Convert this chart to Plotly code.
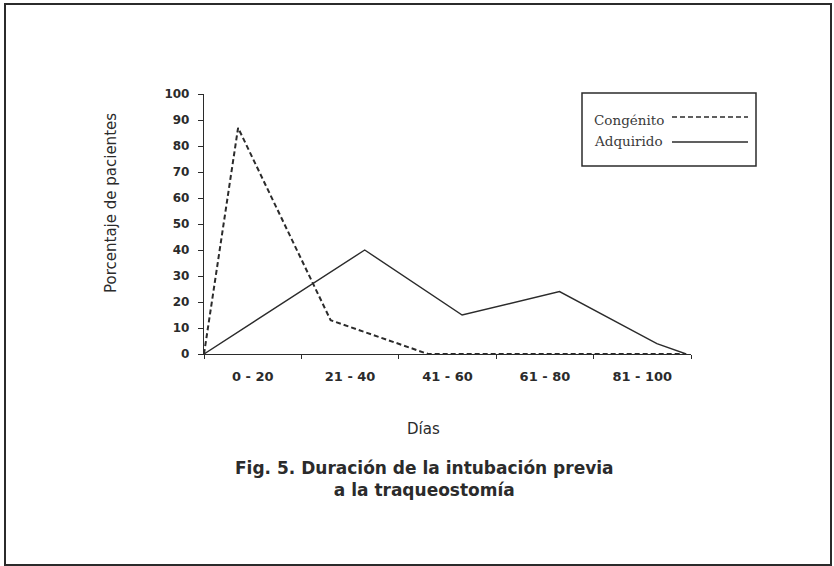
import plotly.graph_objects as go

# values (x in days, y in % of patients)
dias_labels = ["0 - 20", "21 - 40", "41 - 60", "61 - 80", "81 - 100"]
dias_label_pos = [10, 30, 50, 70, 90]
dias_bounds = [0, 20, 40, 60, 80, 100]

congenito_x = [0, 7, 26, 46, 99]
congenito_y = [0, 87, 13, 0, 0]

adquirido_x = [0, 33, 53, 73, 93, 99]
adquirido_y = [0, 40, 15, 24, 4, 0]

W, H = 834, 566
L, R, T, B = 204, 691, 94, 354  # plot area in pixels


def px(x):
    return (x - L) / (R - L)


def py(y):
    return (B - y) / (B - T)


INK = "#2b2b2b"
SANS = "DejaVu Sans"
SERIF = "DejaVu Serif"

fig = go.Figure()
fig.add_trace(go.Scatter(
    x=congenito_x, y=congenito_y, mode="lines", name="Congénito",
    line=dict(color=INK, width=2, dash="5px,3px"), showlegend=False,
))
fig.add_trace(go.Scatter(
    x=adquirido_x, y=adquirido_y, mode="lines", name="Adquirido",
    line=dict(color=INK, width=1.4), showlegend=False,
))

fig.update_layout(
    width=W, height=H,
    margin=dict(l=L, r=W - R, t=T, b=H - B),
    plot_bgcolor="white", paper_bgcolor="white",
    font=dict(family=SANS, color=INK),
    xaxis=dict(
        range=[0, 100], showgrid=False, zeroline=False,
        showline=True, linecolor=INK, linewidth=1.3,
        tickvals=dias_label_pos, ticktext=dias_labels, ticks="",
        tickfont=dict(size=13, family=SANS, weight="bold"),
        ticklabelstandoff=10,
        minor=dict(tickvals=dias_bounds, ticks="outside", ticklen=4,
                   tickcolor=INK, tickwidth=1),
    ),
    yaxis=dict(
        range=[0, 100], dtick=10, showgrid=False, zeroline=False,
        showline=True, linecolor=INK, linewidth=1.3,
        ticks="outside", ticklen=5, tickcolor=INK,
        tickfont=dict(size=12, family=SANS, weight="bold"),
        ticklabelstandoff=6,
    ),
)

annotations = [
    dict(text="Porcentaje de pacientes", x=px(111), y=py(203), textangle=-90,
         font=dict(size=15)),
    dict(text="Días", x=px(423), y=py(429), font=dict(size=15)),
    dict(text="<b>Fig. 5. Duración de la intubación previa<br>a la traqueostomía</b>",
         x=px(424), y=py(479), font=dict(size=17)),
    dict(text="Congénito", x=px(592), y=py(120), xanchor="left",
         font=dict(size=13.5, family=SERIF, color="#3a3a3a")),
    dict(text="Adquirido", x=px(592), y=py(141), xanchor="left",
         font=dict(size=13.5, family=SERIF, color="#3a3a3a")),
]
for a in annotations:
    a.setdefault("xanchor", "center")
    fig.add_annotation(xref="paper", yref="paper", showarrow=False, yanchor="middle", **a)

# figure frame, legend box and legend key lines
fig.add_shape(type="rect", xref="paper", yref="paper",
              x0=px(5), x1=px(831), y0=py(565), y1=py(4),
              line=dict(color=INK, width=2))
fig.add_shape(type="rect", xref="paper", yref="paper",
              x0=px(582), x1=px(756), y0=py(166), y1=py(93),
              line=dict(color=INK, width=1.5))
fig.add_shape(type="line", xref="paper", yref="paper",
              x0=px(672), x1=px(748), y0=py(117), y1=py(117),
              line=dict(color=INK, width=1.5, dash="5px,3px"))
fig.add_shape(type="line", xref="paper", yref="paper",
              x0=px(672), x1=px(748), y0=py(142), y1=py(142),
              line=dict(color=INK, width=1.3))

fig.write_html("out.html", config={"displayModeBar": False},
               post_script="document.body.style.margin='0';")
